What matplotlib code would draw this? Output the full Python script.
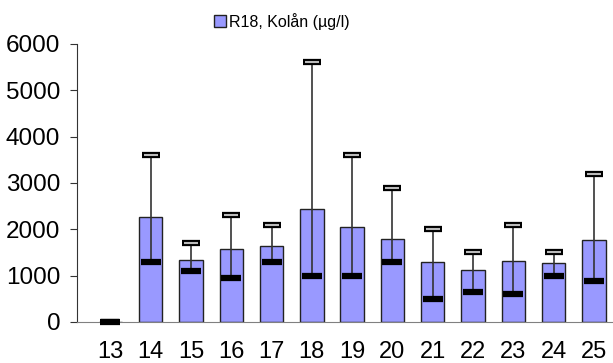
import matplotlib
matplotlib.use("Agg")
import matplotlib.pyplot as plt
from matplotlib.patches import Patch

plt.rcParams['font.family'] = ['Liberation Sans', 'DejaVu Sans']

categories = ['13', '14', '15', '16', '17', '18', '19', '20', '21', '22', '23', '24', '25']
mean_vals = [0, 2260, 1330, 1580, 1630, 2440, 2040, 1780, 1300, 1120, 1310, 1270, 1760]
min_vals = [0, 1300, 1100, 950, 1300, 1000, 990, 1300, 500, 650, 600, 1000, 880]
max_vals = [0, 3600, 1700, 2300, 2100, 5600, 3600, 2900, 2000, 1500, 2100, 1500, 3200]
series_label = 'R18, Kolån (µg/l)'

fig = plt.figure(figsize=(6.13, 3.63), dpi=100)
ax = fig.add_axes([0.1256, 0.113, 0.874, 0.766])

x = list(range(len(categories)))
ax.bar(x, mean_vals, width=0.58, color='#9999FF', edgecolor='#222222', linewidth=1.0, zorder=2)

# min-max range lines
ax.vlines(x, min_vals, max_vals, color='#333333', linewidth=1.2, zorder=3)
# upper marks: outlined dash with grey inside
ax.plot(x, max_vals, linestyle='none', marker='_', markersize=13, markeredgewidth=4.5,
        color='black', zorder=4)
ax.plot(x, max_vals, linestyle='none', marker='_', markersize=10, markeredgewidth=1.5,
        color='#bbbbbb', zorder=5)
# lower marks: solid black dash
ax.plot(x, min_vals, linestyle='none', marker='_', markersize=14, markeredgewidth=4.5,
        color='black', zorder=6, clip_on=False)

ax.set_xlim(-0.83, 12.47)
ax.set_ylim(0, 6000)
ax.set_yticks(range(0, 6001, 1000))
ax.set_xticks(x)
ax.set_xticklabels(categories)

for s in ('top', 'right'):
    ax.spines[s].set_visible(False)
ax.spines['left'].set_color('#333333')
ax.spines['bottom'].set_color('#808080')
ax.tick_params(axis='y', length=5, color='#333333', labelsize=17.5, pad=7)
ax.tick_params(axis='x', length=0, labelsize=17, pad=14)

handle = Patch(facecolor='#9999FF', edgecolor='#222222', linewidth=1.0)
fig.legend([handle], [series_label], loc='center', bbox_to_anchor=(0.46, 0.942),
           frameon=False, fontsize=11.5, handlelength=0.7, handleheight=0.7,
           handletextpad=0.2, borderaxespad=0)

fig.savefig('out.png', dpi=100)
